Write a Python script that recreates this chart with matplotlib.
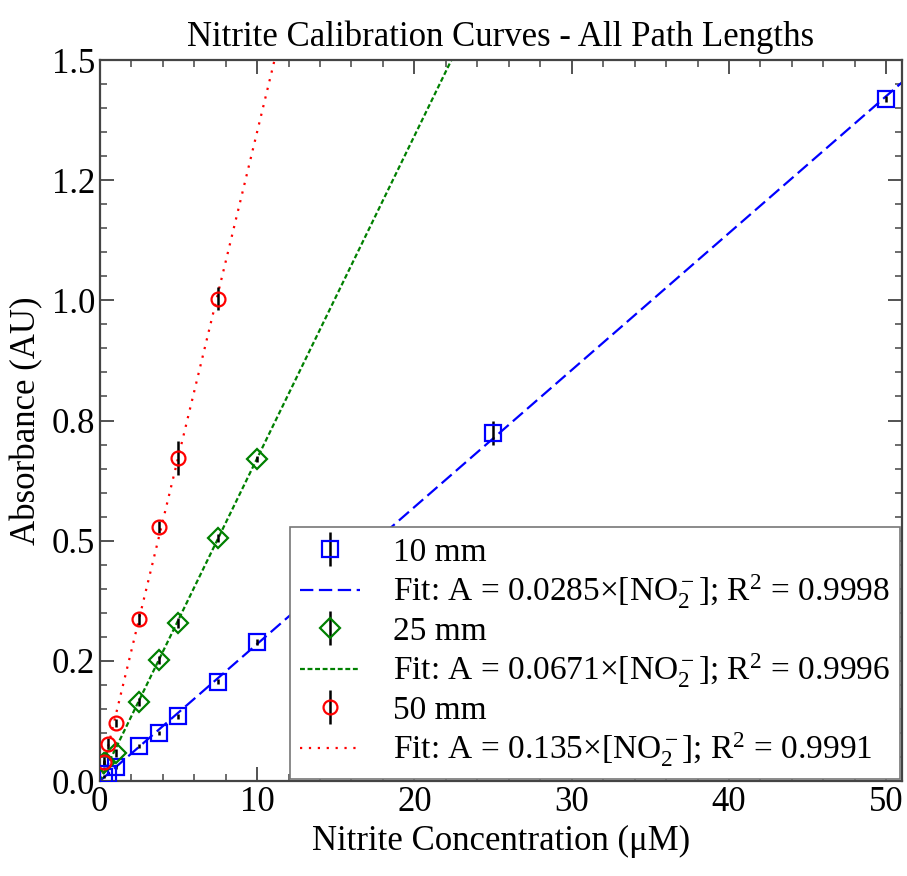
import matplotlib
matplotlib.use("Agg")
import matplotlib.pyplot as plt
import numpy as np
from matplotlib.ticker import MultipleLocator, FormatStrFormatter

plt.rcParams['font.family'] = ['Liberation Serif', 'DejaVu Serif']
plt.rcParams['mathtext.fontset'] = 'custom'
plt.rcParams['mathtext.rm'] = 'Liberation Serif'
plt.rcParams['mathtext.it'] = 'Liberation Serif:italic'
plt.rcParams['mathtext.default'] = 'rm'

# Data
conc_10 = [0.25, 0.5, 1.0, 2.5, 3.75, 5.0, 7.5, 10.0, 25.0, 50.0]
abs_10 = [0.009, 0.015, 0.029, 0.073, 0.100, 0.135, 0.207, 0.289, 0.724, 1.419]
err_10 = [0.003, 0.003, 0.004, 0.005, 0.005, 0.005, 0.006, 0.006, 0.024, 0.006]
conc_25 = [0.25, 1.0, 2.5, 3.75, 5.0, 7.5, 10.0]
abs_25 = [0.037, 0.058, 0.164, 0.252, 0.329, 0.506, 0.670]
err_25 = [0.006, 0.008, 0.008, 0.009, 0.010, 0.008, 0.006]
conc_50 = [0.25, 0.5, 1.0, 2.5, 3.75, 5.0, 7.5]
abs_50 = [0.040, 0.078, 0.121, 0.337, 0.528, 0.672, 1.003]
err_50 = [0.010, 0.012, 0.008, 0.012, 0.012, 0.036, 0.024]
slopes = [0.0285, 0.0671, 0.135]
r2 = [0.9998, 0.9996, 0.9991]
labels = ['10 mm', '25 mm', '50 mm']

fig = plt.figure(figsize=(9.07, 8.76), dpi=100)
ax = fig.add_axes([0.110, 0.1084, 0.8845, 0.8231])

xfit = np.linspace(0, 51, 200)
colors = ['blue', 'green', 'red']
markers = ['s', 'D', 'o']
msizes = [11, 10, 10]
lstyles = [(0, (6, 2.5)), (0, (2.2, 1.2)), (0, (1, 3))]
data = [(conc_10, abs_10, err_10), (conc_25, abs_25, err_25), (conc_50, abs_50, err_50)]

handles = []
hlabels = []
for i in range(3):
    x, y, e = data[i]
    eb = ax.errorbar(x, y, yerr=e, fmt=markers[i], mfc='none', mec=colors[i],
                     mew=1.6, ms=msizes[i], ecolor='black', elinewidth=1.8,
                     capsize=0, linestyle='none', zorder=3)
    ln, = ax.plot(xfit, slopes[i] * xfit, color=colors[i], linestyle=lstyles[i],
                  lw=1.6, zorder=2)
    handles += [eb, ln]
    hlabels += [labels[i],
                "Fit: A = %s×[NO$_2^-$]; R$^2$ = %s" % (('%g' % slopes[i]), '%.4f' % r2[i])]

ax.set_xlim(0, 51)
ax.set_ylim(0, 1.5)
ax.xaxis.set_major_locator(MultipleLocator(10))
ax.xaxis.set_minor_locator(MultipleLocator(2))
ax.yaxis.set_major_locator(MultipleLocator(0.25))
ax.yaxis.set_minor_locator(MultipleLocator(0.05))
ax.yaxis.set_major_formatter(FormatStrFormatter('%.1f'))
ax.tick_params(which='both', direction='in', top=True, right=True, colors='#444444',
               labelcolor='black', labelsize=25)
ax.tick_params(which='major', length=10, width=1.3)
ax.tick_params(which='minor', length=5, width=1.1)
for s in ax.spines.values():
    s.set_color('#444444')
    s.set_linewidth(1.6)

ax.set_xlabel('Nitrite Concentration (μM)', fontsize=25, labelpad=4)
ax.set_ylabel('Absorbance (AU)', fontsize=25, labelpad=6)
ax.set_title('Nitrite Calibration Curves - All Path Lengths', fontsize=25, pad=10)

leg = ax.legend(handles, hlabels, loc='lower right', fontsize=24, frameon=True,
                fancybox=False, edgecolor='#777777', framealpha=1,
                borderaxespad=0.05, handlelength=1.8, handletextpad=1.0,
                labelspacing=0.15, borderpad=0.3)
leg.get_frame().set_linewidth(1.2)

fig.savefig('out.png', dpi=100)
